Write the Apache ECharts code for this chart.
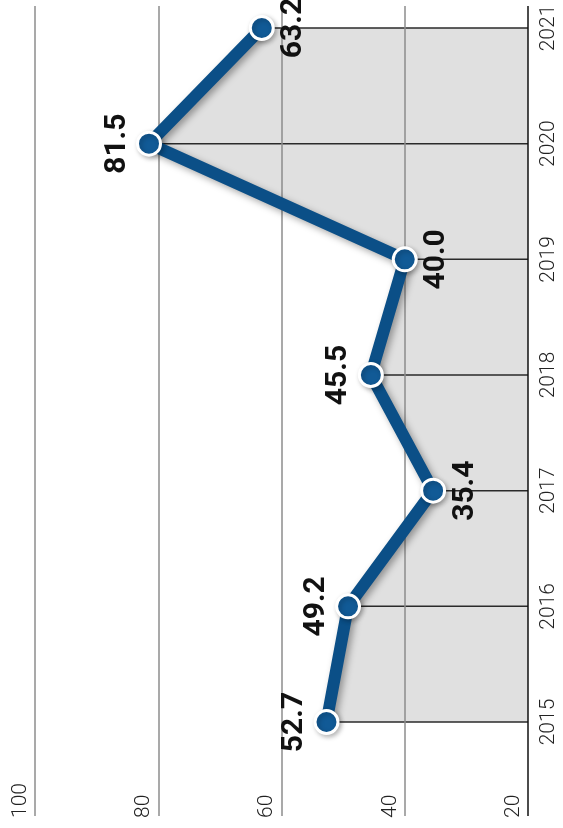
<!DOCTYPE html>
<html>
<head>
<meta charset="utf-8">
<script src="https://cdn.jsdelivr.net/npm/echarts@6/dist/echarts.min.js"></script>
<style>
  html, body { margin: 0; padding: 0; background: #fff; }
  #chart { width: 563px; height: 828px; }
</style>
</head>
<body>
<div id="chart"></div>
<script>
var years = ['2015', '2016', '2017', '2018', '2019', '2020', '2021'];
var values = [52.7, 49.2, 35.4, 45.5, 40.0, 81.5, 63.2];
// which side of the point each label goes (left = higher value)
var labelSide = ['left', 'left', 'right', 'left', 'right', 'left', 'right'];
var valueTicks = [20, 40, 60, 80, 100];

var chart = echarts.init(document.getElementById('chart'));

var lineData = values.map(function (v, i) {
  var left = labelSide[i] === 'left';
  return {
    value: v,
    label: {
      position: left ? 'left' : 'right',
      verticalAlign: left ? 'bottom' : 'top',
      distance: 4
    }
  };
});

var option = {
  backgroundColor: '#fff',
  animation: false,
  grid: [
    { left: 35, right: 35, top: 6, bottom: 12 },   // full height, for grid lines
    { left: 35, right: 35, top: 28, bottom: 106 }  // data area
  ],
  xAxis: [{
    gridIndex: 0,
    type: 'value',
    inverse: true,
    min: valueTicks[0],
    max: valueTicks[valueTicks.length - 1],
    interval: 20,
    z: 4,
    axisLine: { show: false, onZero: false },
    axisTick: { show: false },
    splitLine: {
      showMinLine: true,
      showMaxLine: true,
      // first one is the 20 line, drawn dark like an axis
      lineStyle: { color: ['#111', '#8c8c8c', '#8c8c8c', '#8c8c8c', '#8c8c8c'], width: 1.5 }
    },
    axisLabel: {
      inside: true,
      rotate: 90,
      margin: -2,
      verticalAlign: 'bottom',
      padding: [0, 0, 4, 0],
      showMinLabel: true,
      showMaxLabel: true,
      fontFamily: 'Roboto',
      fontWeight: 300,
      fontSize: 21,
      color: '#222'
    }
  }, {
    gridIndex: 1,
    type: 'value',
    inverse: true,
    min: valueTicks[0],
    max: valueTicks[valueTicks.length - 1],
    interval: 20,
    show: false
  }],
  yAxis: [{
    gridIndex: 0,
    type: 'value',
    min: 0,
    max: 1,
    show: false
  }, {
    gridIndex: 1,
    type: 'category',
    data: years,
    position: 'right',
    boundaryGap: false,
    axisLine: { show: false },
    axisTick: { show: false },
    splitLine: { show: false },
    axisLabel: {
      rotate: 90,
      margin: 10,
      fontFamily: 'Roboto',
      fontWeight: 300,
      fontSize: 21,
      color: '#222'
    }
  }],
  series: [{
    // gray fill between the line and the 20 axis
    type: 'line',
    xAxisIndex: 1,
    yAxisIndex: 1,
    data: values,
    z: 1,
    silent: true,
    showSymbol: false,
    lineStyle: { width: 0 },
    areaStyle: { color: '#e0e0e0', opacity: 1, origin: 'start' }
  }, {
    // thin drop lines from each point to the axis
    type: 'bar',
    xAxisIndex: 1,
    yAxisIndex: 1,
    data: values,
    z: 3,
    silent: true,
    barWidth: 1.5,
    itemStyle: { color: '#2a2a2a' }
  }, {
    type: 'line',
    xAxisIndex: 1,
    yAxisIndex: 1,
    data: lineData,
    z: 10,
    silent: true,
    symbol: 'circle',
    symbolSize: 23,
    lineStyle: {
      width: 12,
      color: '#0b4f87',
      shadowColor: 'rgba(0,0,0,0.35)',
      shadowBlur: 7,
      shadowOffsetX: 3,
      shadowOffsetY: 3
    },
    itemStyle: {
      color: '#115a96',
      borderColor: '#fff',
      borderWidth: 3,
      shadowColor: 'rgba(0,0,0,0.25)',
      shadowBlur: 5,
      shadowOffsetX: 2,
      shadowOffsetY: 2
    },
    label: {
      show: true,
      rotate: 90,
      align: 'center',
      fontFamily: 'Roboto',
      fontWeight: 'bold',
      fontSize: 30,
      color: '#111',
      formatter: function (p) { return p.value.toFixed(1); }
    }
  }]
};

chart.setOption(option);
</script>
</body>
</html>
